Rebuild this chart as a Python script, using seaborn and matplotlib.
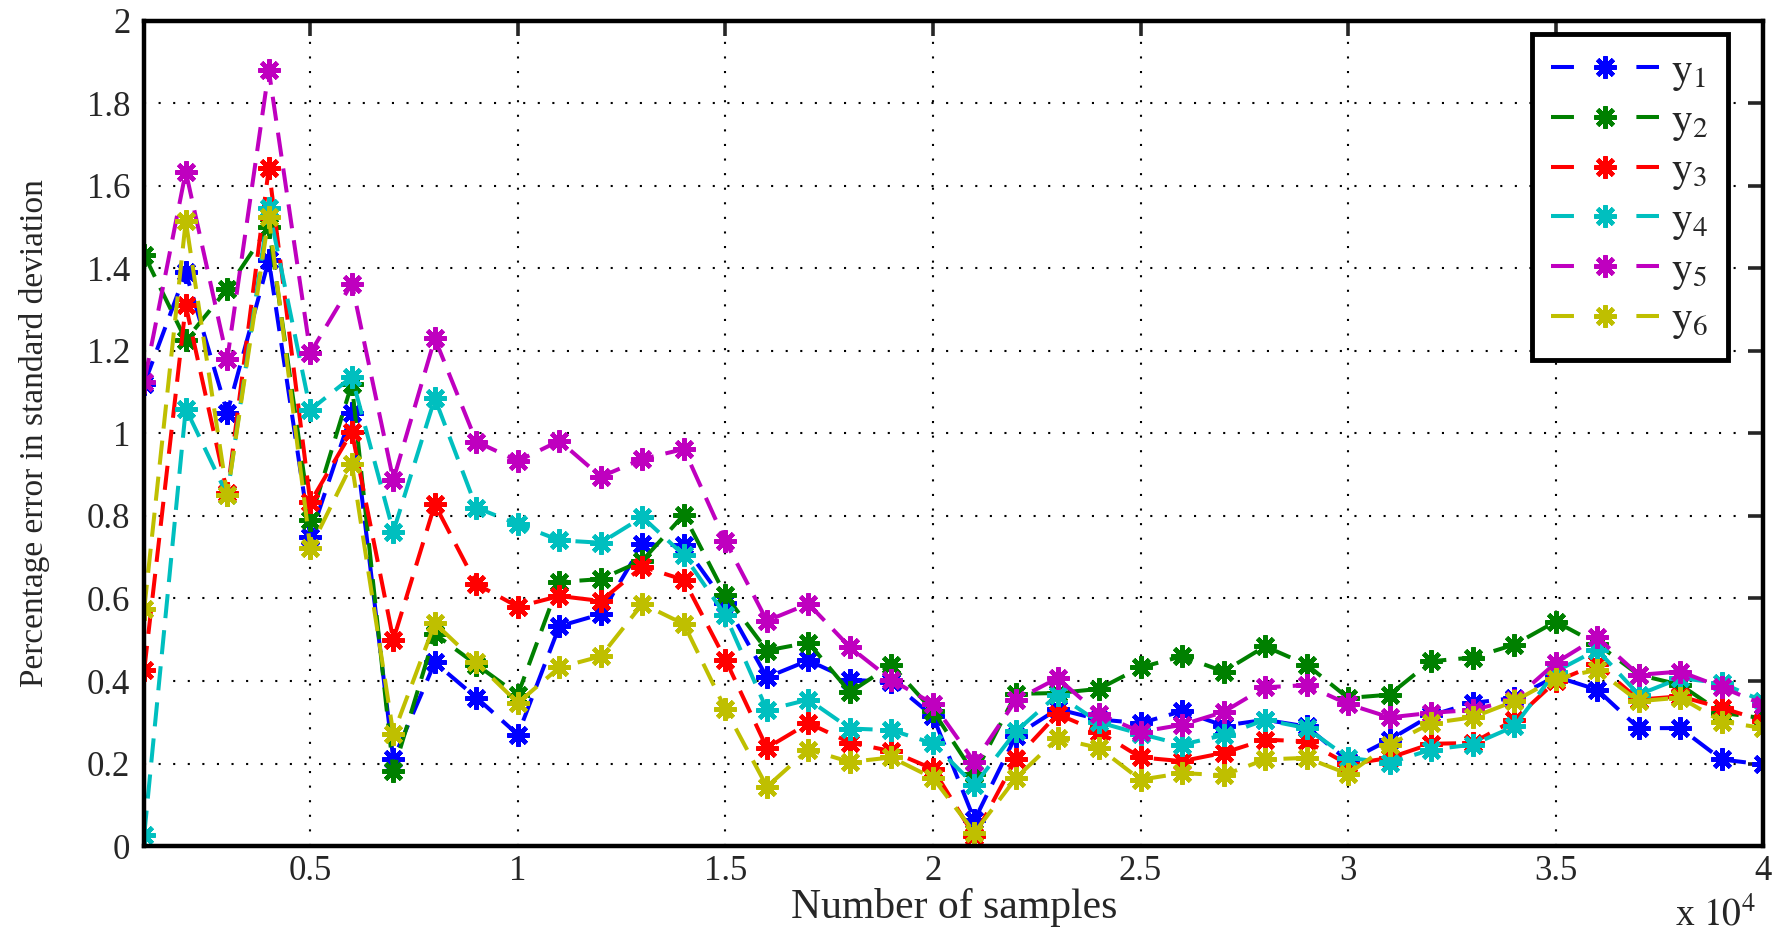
import pandas as pd
import seaborn as sns
import matplotlib.pyplot as plt
from matplotlib.ticker import FuncFormatter

# Number of samples (1000 ... 40000)
samples = list(range(1000, 40001, 1000))

y1 = [1.12, 1.39, 1.05, 1.42, 0.75, 1.05, 0.21, 0.445, 0.36, 0.27,
      0.533, 0.562, 0.731, 0.729, 0.589, 0.409, 0.45, 0.403, 0.398, 0.315,
      0.063, 0.268, 0.332, 0.307, 0.298, 0.327, 0.292, 0.306, 0.29, 0.206,
      0.258, 0.317, 0.347, 0.359, 0.411, 0.379, 0.286, 0.286, 0.21, 0.198]
y2 = [1.432, 1.226, 1.35, 1.50, 0.79, 1.12, 0.181, 0.514, 0.44, 0.367,
      0.64, 0.647, 0.692, 0.803, 0.608, 0.474, 0.493, 0.373, 0.439, 0.328,
      0.174, 0.369, 0.371, 0.381, 0.433, 0.46, 0.423, 0.484, 0.44, 0.359,
      0.367, 0.448, 0.457, 0.488, 0.544, 0.49, 0.415, 0.391, 0.323, 0.31]
y3 = [0.427, 1.31, 0.855, 1.642, 0.833, 1.004, 0.5, 0.828, 0.635, 0.58,
      0.606, 0.594, 0.677, 0.645, 0.452, 0.238, 0.298, 0.251, 0.23, 0.187,
      0.024, 0.212, 0.32, 0.277, 0.215, 0.206, 0.226, 0.258, 0.254, 0.198,
      0.214, 0.248, 0.25, 0.306, 0.399, 0.441, 0.355, 0.363, 0.335, 0.304]
y4 = [0.028, 1.06, 0.85, 1.545, 1.057, 1.137, 0.762, 1.085, 0.82, 0.78,
      0.741, 0.735, 0.797, 0.705, 0.559, 0.33, 0.355, 0.285, 0.281, 0.249,
      0.148, 0.278, 0.367, 0.30, 0.272, 0.246, 0.269, 0.306, 0.286, 0.214,
      0.202, 0.234, 0.246, 0.29, 0.423, 0.476, 0.367, 0.407, 0.395, 0.351]
y5 = [1.125, 1.634, 1.18, 1.88, 1.195, 1.363, 0.887, 1.23, 0.98, 0.933,
      0.982, 0.895, 0.938, 0.962, 0.739, 0.546, 0.587, 0.482, 0.403, 0.345,
      0.204, 0.354, 0.407, 0.32, 0.277, 0.294, 0.325, 0.385, 0.39, 0.344,
      0.312, 0.323, 0.33, 0.355, 0.444, 0.506, 0.415, 0.423, 0.385, 0.343]
y6 = [0.575, 1.515, 0.85, 1.525, 0.722, 0.926, 0.272, 0.54, 0.445, 0.347,
      0.433, 0.46, 0.587, 0.538, 0.332, 0.144, 0.234, 0.204, 0.215, 0.165,
      0.033, 0.165, 0.261, 0.238, 0.161, 0.177, 0.172, 0.21, 0.214, 0.175,
      0.246, 0.298, 0.312, 0.351, 0.406, 0.427, 0.351, 0.36, 0.302, 0.286]

series_names = ['y1', 'y2', 'y3', 'y4', 'y5', 'y6']
legend_labels = [r'$\mathrm{y}_{%d}$' % i for i in range(1, 7)]
colors = ['#0000ff', '#008000', '#ff0000', '#00bfbf', '#bf00bf', '#bfbf00']

df = pd.DataFrame({'samples': samples, 'y1': y1, 'y2': y2, 'y3': y3,
                   'y4': y4, 'y5': y5, 'y6': y6})

sns.set_style('white')
plt.rcParams['font.family'] = ['Liberation Serif', 'DejaVu Serif']
plt.rcParams['mathtext.fontset'] = 'stix'

fig = plt.figure(figsize=(17.81, 9.35), dpi=100)
ax = fig.add_axes([0.081, 0.095, 0.909, 0.883])

for name, label, c in zip(series_names, legend_labels, colors):
    sns.lineplot(data=df, x='samples', y=name, ax=ax, color=c, label=label,
                 linewidth=2.9, linestyle=(0, (6, 3)),
                 marker=(8, 2, 0), markersize=16, markeredgewidth=3.2,
                 markeredgecolor=c, markerfacecolor=c)

ax.set_xlim(1000, 40000)
ax.set_ylim(0, 2)
ax.set_xticks(range(5000, 40001, 5000))
ax.set_yticks([i * 0.2 for i in range(11)])
ax.xaxis.set_major_formatter(FuncFormatter(lambda v, p: '%g' % (v / 1e4)))
ax.yaxis.set_major_formatter(FuncFormatter(lambda v, p: '%g' % round(v, 1)))

ax.grid(True, color='black', linestyle=(0, (1, 6)), linewidth=1.5)
ax.tick_params(direction='in', length=11, width=2.6, labelsize=25,
               top=True, right=True)
ax.tick_params(axis='x', pad=6)
ax.tick_params(axis='y', pad=10)
for s in ax.spines.values():
    s.set_linewidth(3.2)
    s.set_color('black')

ax.set_xlabel('Number of samples', fontsize=30, labelpad=0)
ax.set_ylabel('Percentage error in standard deviation', fontsize=24)
ax.yaxis.set_label_coords(-0.058, 0.5)
fig.text(0.986, 0.002, r'x $10^{4}$', fontsize=27, ha='right', va='bottom')

leg = ax.legend(loc='upper right', bbox_to_anchor=(0.978, 0.984), fontsize=30,
                handlelength=2.6, labelspacing=0.22, borderpad=0.45,
                borderaxespad=0, handletextpad=0.3, fancybox=False,
                framealpha=1, edgecolor='black', numpoints=1)
leg.get_frame().set_linewidth(3.5)
# MATLAB-style legend sample: short dash, marker, short dash
for line in leg.get_lines():
    line.set_linestyle((0, (5.7, 15.5)))

plt.savefig('out.png', dpi=100)
